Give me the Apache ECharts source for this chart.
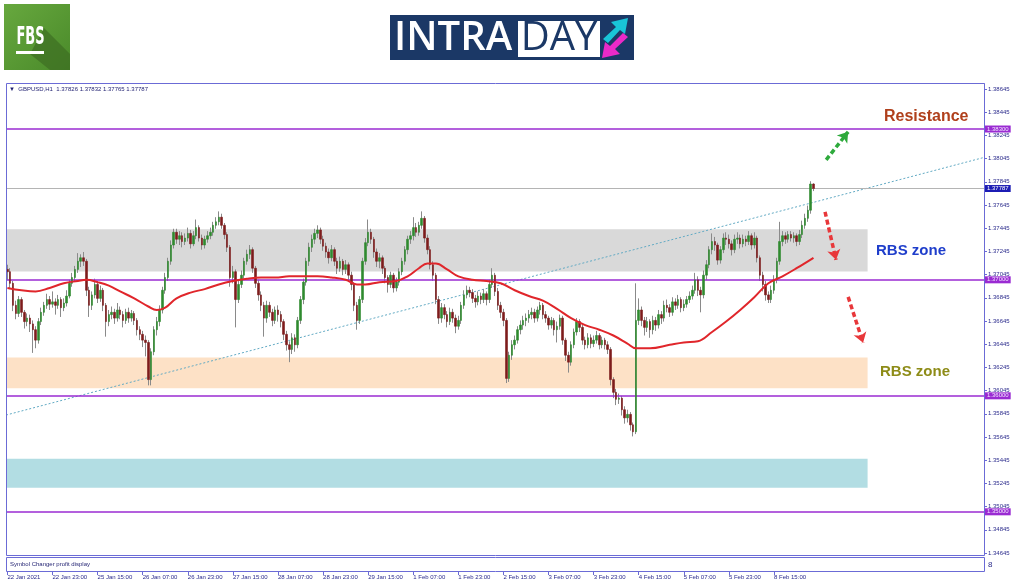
<!DOCTYPE html>
<html><head><meta charset="utf-8">
<script src="https://cdn.jsdelivr.net/npm/echarts@6/dist/echarts.min.js"></script>
<style>html,body{margin:0;padding:0;background:#fff}#c{width:1024px;height:587px}</style>
</head><body><div id="c"></div>
<script>
// ---------- DATA (GBPUSD H1) ----------
const symbol = 'GBPUSD,H1';
const opens = [
1.3709,1.3707,1.3697,1.3678,1.3671,1.3683,1.3672,1.3664,1.3667,1.3662,
1.3657,1.3648,1.3664,1.3672,1.3678,1.3683,1.3679,1.3681,1.3678,1.3683,
1.3676,1.3680,1.3686,1.3697,1.3702,1.3709,1.3716,1.3719,1.3716,1.3691,
1.3678,1.3687,1.3696,1.3684,1.3691,1.3678,1.3664,1.3670,1.3672,1.3667,
1.3674,1.3670,1.3665,1.3672,1.3667,1.3671,1.3665,1.3657,1.3653,1.3648,
1.3646,1.3614,1.3638,1.3657,1.3664,1.3674,1.3691,1.3702,1.3716,1.3730,
1.3741,1.3735,1.3738,1.3733,1.3736,1.3740,1.3731,1.3738,1.3745,1.3736,
1.3730,1.3735,1.3738,1.3741,1.3747,1.3750,1.3754,1.3747,1.3739,1.3728,
1.3702,1.3707,1.3683,1.3696,1.3704,1.3716,1.3722,1.3726,1.3710,1.3697,
1.3687,1.3678,1.3667,1.3678,1.3672,1.3665,1.3674,1.3670,1.3664,1.3653,
1.3644,1.3640,1.3650,1.3644,1.3665,1.3683,1.3698,1.3716,1.3728,1.3735,
1.3740,1.3743,1.3735,1.3729,1.3724,1.3719,1.3726,1.3716,1.3710,1.3716,
1.3709,1.3713,1.3704,1.3696,1.3678,1.3665,1.3683,1.3716,1.3732,1.3741,
1.3735,1.3724,1.3716,1.3719,1.3710,1.3702,1.3696,1.3704,1.3693,1.3698,
1.3707,1.3716,1.3726,1.3735,1.3738,1.3745,1.3741,1.3747,1.3753,1.3736,
1.3726,1.3713,1.3704,1.3683,1.3667,1.3676,1.3670,1.3664,1.3672,1.3667,
1.3660,1.3665,1.3678,1.3687,1.3691,1.3689,1.3684,1.3681,1.3686,1.3683,
1.3688,1.3683,1.3696,1.3704,1.3690,1.3678,1.3672,1.3665,1.3615,1.3635,
1.3644,1.3648,1.3657,1.3661,1.3665,1.3667,1.3670,1.3672,1.3667,1.3674,
1.3678,1.3670,1.3667,1.3661,1.3665,1.3657,1.3660,1.3667,1.3648,1.3635,
1.3629,1.3644,1.3655,1.3664,1.3659,1.3648,1.3644,1.3650,1.3645,1.3648,
1.3652,1.3644,1.3648,1.3644,1.3640,1.3614,1.3603,1.3597,1.3598,1.3588,
1.3581,1.3584,1.3575,1.3569,1.3665,1.3674,1.3665,1.3659,1.3664,1.3657,
1.3665,1.3661,1.3670,1.3667,1.3678,1.3676,1.3672,1.3681,1.3678,1.3683,
1.3676,1.3679,1.3683,1.3686,1.3691,1.3700,1.3691,1.3687,1.3704,1.3713,
1.3726,1.3733,1.3730,1.3717,1.3726,1.3736,1.3735,1.3731,1.3726,1.3735,
1.3736,1.3731,1.3735,1.3733,1.3738,1.3730,1.3736,1.3719,1.3704,1.3696,
1.3687,1.3683,1.3691,1.3700,1.3716,1.3733,1.3738,1.3735,1.3739,1.3736,
1.3738,1.3733,1.3739,1.3747,1.3753,1.3760,1.37826];
const closes = [
1.3707,1.3697,1.3678,1.3671,1.3683,1.3672,1.3664,1.3667,1.3662,1.3657,
1.3648,1.3664,1.3672,1.3678,1.3683,1.3679,1.3681,1.3678,1.3683,1.3676,
1.3680,1.3686,1.3697,1.3702,1.3709,1.3716,1.3719,1.3716,1.3691,1.3678,
1.3687,1.3696,1.3684,1.3691,1.3678,1.3664,1.3670,1.3672,1.3667,1.3674,
1.3670,1.3665,1.3672,1.3667,1.3671,1.3665,1.3657,1.3653,1.3648,1.3646,
1.3614,1.3638,1.3657,1.3664,1.3674,1.3691,1.3702,1.3716,1.3730,1.3741,
1.3735,1.3738,1.3733,1.3736,1.3740,1.3731,1.3738,1.3745,1.3736,1.3730,
1.3735,1.3738,1.3741,1.3747,1.3750,1.3754,1.3747,1.3739,1.3728,1.3702,
1.3707,1.3683,1.3696,1.3704,1.3716,1.3722,1.3726,1.3710,1.3697,1.3687,
1.3678,1.3667,1.3678,1.3672,1.3665,1.3674,1.3670,1.3664,1.3653,1.3644,
1.3640,1.3650,1.3644,1.3665,1.3683,1.3698,1.3716,1.3728,1.3735,1.3740,
1.3743,1.3735,1.3729,1.3724,1.3719,1.3726,1.3716,1.3710,1.3716,1.3709,
1.3713,1.3704,1.3696,1.3678,1.3665,1.3683,1.3716,1.3732,1.3741,1.3735,
1.3724,1.3716,1.3719,1.3710,1.3702,1.3696,1.3704,1.3693,1.3698,1.3707,
1.3716,1.3726,1.3735,1.3738,1.3745,1.3741,1.3747,1.3753,1.3736,1.3726,
1.3713,1.3704,1.3683,1.3667,1.3676,1.3670,1.3664,1.3672,1.3667,1.3660,
1.3665,1.3678,1.3687,1.3691,1.3689,1.3684,1.3681,1.3686,1.3683,1.3688,
1.3683,1.3696,1.3704,1.3690,1.3678,1.3672,1.3665,1.3615,1.3635,1.3644,
1.3648,1.3657,1.3661,1.3665,1.3667,1.3670,1.3672,1.3667,1.3674,1.3678,
1.3670,1.3667,1.3661,1.3665,1.3657,1.3660,1.3667,1.3648,1.3635,1.3629,
1.3644,1.3655,1.3664,1.3659,1.3648,1.3644,1.3650,1.3645,1.3648,1.3652,
1.3644,1.3648,1.3644,1.3640,1.3614,1.3603,1.3597,1.3598,1.3588,1.3581,
1.3584,1.3575,1.3569,1.3665,1.3674,1.3665,1.3659,1.3664,1.3657,1.3665,
1.3661,1.3670,1.3667,1.3678,1.3676,1.3672,1.3681,1.3678,1.3683,1.3676,
1.3679,1.3683,1.3686,1.3691,1.3700,1.3691,1.3687,1.3704,1.3713,1.3726,
1.3733,1.3730,1.3717,1.3726,1.3736,1.3735,1.3731,1.3726,1.3735,1.3736,
1.3731,1.3735,1.3733,1.3738,1.3730,1.3736,1.3719,1.3704,1.3696,1.3687,
1.3683,1.3691,1.3700,1.3716,1.3733,1.3738,1.3735,1.3739,1.3736,1.3738,
1.3733,1.3739,1.3747,1.3753,1.3760,1.37826,1.37787];
const highs = [
1.3713,1.3710,1.3699,1.3682,1.3686,1.3685,1.3674,1.3671,1.3670,1.3665,
1.3660,1.3667,1.3676,1.3681,1.3688,1.3686,1.3690,1.3684,1.3687,1.3685,
1.3684,1.3691,1.3700,1.3706,1.3712,1.3723,1.3722,1.3724,1.3718,1.3694,
1.3690,1.3701,1.3699,1.3695,1.3693,1.3680,1.3674,1.3677,1.3675,1.3680,
1.3677,1.3673,1.3675,1.3676,1.3674,1.3673,1.3667,1.3660,1.3656,1.3652,
1.3648,1.3641,1.3660,1.3668,1.3678,1.3694,1.3706,1.3719,1.3734,1.3744,
1.3744,1.3742,1.3741,1.3740,1.3745,1.3743,1.3742,1.3752,1.3747,1.3739,
1.3738,1.3742,1.3745,1.3750,1.3754,1.3759,1.3757,1.3749,1.3741,1.3730,
1.3712,1.3709,1.3699,1.3708,1.3719,1.3726,1.3730,1.3728,1.3712,1.3700,
1.3690,1.3681,1.3682,1.3681,1.3675,1.3677,1.3678,1.3673,1.3666,1.3656,
1.3647,1.3654,1.3653,1.3668,1.3686,1.3701,1.3719,1.3732,1.3739,1.3744,
1.3747,1.3745,1.3738,1.3732,1.3727,1.3730,1.3728,1.3719,1.3720,1.3718,
1.3717,1.3715,1.3707,1.3698,1.3681,1.3686,1.3719,1.3736,1.3752,1.3744,
1.3737,1.3727,1.3723,1.3721,1.3712,1.3704,1.3707,1.3706,1.3702,1.3710,
1.3719,1.3729,1.3738,1.3742,1.3754,1.3749,1.3750,1.3759,1.3755,1.3739,
1.3729,1.3716,1.3706,1.3686,1.3680,1.3679,1.3673,1.3676,1.3675,1.3670,
1.3669,1.3681,1.3691,1.3695,1.3694,1.3692,1.3687,1.3690,1.3689,1.3692,
1.3690,1.3700,1.3710,1.3706,1.3693,1.3681,1.3675,1.3667,1.3638,1.3648,
1.3652,1.3660,1.3665,1.3669,1.3671,1.3674,1.3676,1.3675,1.3677,1.3681,
1.3680,1.3673,1.3669,1.3668,1.3667,1.3664,1.3670,1.3669,1.3650,1.3638,
1.3647,1.3658,1.3667,1.3666,1.3661,1.3651,1.3654,1.3653,1.3652,1.3656,
1.3654,1.3651,1.3650,1.3647,1.3642,1.3616,1.3606,1.3602,1.3600,1.3591,
1.3588,1.3586,1.3577,1.3697,1.3684,1.3677,1.3668,1.3668,1.3666,1.3669,
1.3668,1.3674,1.3673,1.3682,1.3683,1.3679,1.3685,1.3684,1.3687,1.3685,
1.3683,1.3686,1.3690,1.3695,1.3706,1.3703,1.3694,1.3708,1.3717,1.3729,
1.3740,1.3737,1.3732,1.3729,1.3740,1.3741,1.3739,1.3734,1.3739,1.3741,
1.3739,1.3739,1.3738,1.3742,1.3740,1.3741,1.3738,1.3721,1.3707,1.3699,
1.3690,1.3695,1.3704,1.3719,1.3750,1.3742,1.3741,1.3742,1.3742,1.3741,
1.3740,1.3743,1.3751,1.3757,1.3764,1.3785,1.37832];
const lows = [
1.3700,1.3692,1.3673,1.3666,1.3668,1.3668,1.3658,1.3660,1.3655,1.3637,
1.3641,1.3645,1.3661,1.3669,1.3675,1.3674,1.3676,1.3670,1.3675,1.3668,
1.3673,1.3677,1.3684,1.3694,1.3699,1.3706,1.3711,1.3712,1.3686,1.3668,
1.3674,1.3684,1.3680,1.3681,1.3673,1.3651,1.3660,1.3666,1.3662,1.3664,
1.3666,1.3659,1.3662,1.3663,1.3664,1.3661,1.3652,1.3648,1.3642,1.3634,
1.3609,1.3609,1.3635,1.3652,1.3660,1.3671,1.3688,1.3699,1.3713,1.3727,
1.3731,1.3730,1.3728,1.3730,1.3733,1.3727,1.3729,1.3735,1.3733,1.3726,
1.3727,1.3732,1.3735,1.3738,1.3744,1.3747,1.3744,1.3735,1.3724,1.3694,
1.3697,1.3659,1.3680,1.3693,1.3701,1.3713,1.3718,1.3706,1.3693,1.3682,
1.3673,1.3651,1.3663,1.3668,1.3660,1.3662,1.3664,1.3659,1.3648,1.3639,
1.3629,1.3636,1.3638,1.3641,1.3662,1.3679,1.3695,1.3712,1.3724,1.3731,
1.3736,1.3731,1.3725,1.3719,1.3714,1.3716,1.3712,1.3705,1.3707,1.3704,
1.3705,1.3700,1.3691,1.3673,1.3657,1.3662,1.3680,1.3713,1.3729,1.3731,
1.3719,1.3711,1.3710,1.3705,1.3697,1.3689,1.3693,1.3689,1.3690,1.3695,
1.3704,1.3713,1.3722,1.3731,1.3734,1.3737,1.3738,1.3744,1.3732,1.3722,
1.3709,1.3699,1.3679,1.3662,1.3663,1.3666,1.3659,1.3661,1.3663,1.3654,
1.3657,1.3662,1.3675,1.3684,1.3685,1.3680,1.3676,1.3678,1.3679,1.3680,
1.3678,1.3680,1.3693,1.3686,1.3674,1.3667,1.3660,1.3611,1.3612,1.3631,
1.3640,1.3645,1.3653,1.3657,1.3660,1.3663,1.3666,1.3663,1.3664,1.3670,
1.3666,1.3663,1.3657,1.3658,1.3652,1.3646,1.3657,1.3644,1.3630,1.3620,
1.3626,1.3641,1.3652,1.3655,1.3644,1.3640,1.3641,1.3641,1.3642,1.3645,
1.3640,1.3641,1.3640,1.3636,1.3609,1.3598,1.3592,1.3593,1.3583,1.3576,
1.3577,1.3570,1.3565,1.3567,1.3661,1.3660,1.3652,1.3655,1.3650,1.3653,
1.3656,1.3658,1.3662,1.3664,1.3672,1.3668,1.3669,1.3674,1.3675,1.3672,
1.3673,1.3676,1.3680,1.3683,1.3688,1.3686,1.3672,1.3684,1.3700,1.3710,
1.3722,1.3725,1.3713,1.3714,1.3723,1.3730,1.3727,1.3721,1.3723,1.3731,
1.3727,1.3728,1.3729,1.3730,1.3726,1.3727,1.3715,1.3699,1.3690,1.3682,
1.3680,1.3680,1.3688,1.3697,1.3713,1.3729,1.3731,1.3732,1.3733,1.3732,
1.3729,1.3730,1.3736,1.3744,1.3750,1.3757,1.37765];
// moving average (red), read at sample bars
const maIdx = [0,5,10,15,20,25,28,32,36,40,45,50,53,56,60,65,70,75,80,85,90,95,100,105,110,115,120,124,127,132,138,142,146,149,152,156,160,165,170,175,180,185,190,195,200,205,210,215,220,223,228,235,240,245,250,255,260,265,270,275,280,286];
const maVal = [1.3693,1.3691,1.3690,1.3693,1.3697,1.3699,1.3700,1.3698,1.3695,1.3690,1.3684,1.3677,1.3674,1.3676,1.3684,1.3689,1.3692,1.3696,1.3699,1.3701,1.3702,1.3702,1.3703,1.3703,1.3703,1.3702,1.3700,1.3696,1.3696,1.3698,1.3699,1.3703,1.3710,1.3714,1.3714,1.3709,1.3703,1.3700,1.3699,1.3697,1.3691,1.3686,1.3682,1.3675,1.3667,1.3661,1.3657,1.3652,1.3645,1.3641,1.3641,1.3644,1.3646,1.3647,1.3655,1.3664,1.3674,1.3685,1.3697,1.3703,1.3710,1.3719];
// axis tick labels
const xTickLabels = ['22 Jan 2021','22 Jan 23:00','25 Jan 15:00','26 Jan 07:00','26 Jan 23:00','27 Jan 15:00','28 Jan 07:00','28 Jan 23:00','29 Jan 15:00','1 Feb 07:00','1 Feb 23:00','2 Feb 15:00','3 Feb 07:00','3 Feb 23:00','4 Feb 15:00','5 Feb 07:00','5 Feb 23:00','8 Feb 15:00'];
const xTickEvery = 16;
const yTickLabels = ['1.34645','1.34845','1.35045','1.35245','1.35445','1.35645','1.35845','1.36045','1.36245','1.36445','1.36645','1.36845','1.37045','1.37245','1.37445','1.37645','1.37845','1.38045','1.38245','1.38445','1.38645'];
// horizontal levels, zones, trend line, arrows
const levels = [1.383, 1.37, 1.36, 1.35];
const zoneTop = [1.37437, 1.36330, 1.35457];
const zoneBottom = [1.37072, 1.36066, 1.35207];
const zoneEndBar = 305.2;
const trendLine = [[-0.5, 1.35834], [346.5, 1.38055]];
const arrowUp = [[290.5, 1.38034], [298.3, 1.38276]];
const arrowDown1 = [[290.1, 1.37586], [294.0, 1.37172]];
const arrowDown2 = [[298.3, 1.36853], [303.6, 1.36457]];

// ---------- CHART ----------
const nSlots = 347;
const n = closes.length;
const cats = Array.from({length: nSlots}, (_, i) => String(i));
const full = opens.map((o, i) => [o, closes[i], lows[i], highs[i]]);
const bodies = opens.map((o, i) => [o, closes[i], Math.min(o, closes[i]), Math.max(o, closes[i])]);
const ma = maIdx.map((b, i) => [b, maVal[i]]);
const yMin = parseFloat(yTickLabels[0]);
const yStep = parseFloat(yTickLabels[1]) - yMin;
const gridTop = 84, gridBottom = 34;
const pxPerUnit = 11600;
const yMax = yMin + (587 - gridTop - gridBottom) / pxPerUnit;
const last = n - 1;
const headerText = '\u25BC  ' + symbol + '  ' + [opens[last], highs[last], lows[last], closes[last]].map(v => v.toFixed(5)).join(' ');
const navy = '#2b2b8c';
const frameColor = '#6b6bd6';
const purple = '#9a2bd2';
const zoneColors = ['#d9d9d9', '#fde1c6', '#b2dde3'];

const chart = echarts.init(document.getElementById('c'), null, {renderer: 'canvas'});
chart.setOption({
  animation: false,
  backgroundColor: '#ffffff',
  grid: {left: 6, right: 40, top: gridTop, bottom: gridBottom, containLabel: false},
  xAxis: [{
    type: 'category', data: cats, boundaryGap: true, position: 'bottom', offset: 19,
    axisLine: {show: false, onZero: false},
    axisTick: {show: true, alignWithLabel: true, length: 3, lineStyle: {color: frameColor},
      interval: (i) => i % xTickEvery === 0 && i / xTickEvery < xTickLabels.length},
    axisLabel: {interval: (i) => i % xTickEvery === 0 && i / xTickEvery < xTickLabels.length,
      formatter: (v, i) => xTickLabels[Math.round(Number(v) / xTickEvery)] || '',
      align: 'left', margin: 2, fontSize: 6, color: navy, fontFamily: 'Liberation Sans'},
    splitLine: {show: false}
  }, {
    type: 'value', min: -0.5, max: nSlots - 0.5, show: false,
    axisLine: {onZero: false}
  }],
  yAxis: [{
    type: 'value', position: 'right', min: yMin, max: yMax, interval: yStep, scale: true,
    axisLine: {show: true, onZero: false, lineStyle: {color: frameColor}},
    axisTick: {show: true, inside: false, length: 3, lineStyle: {color: frameColor}},
    axisLabel: {formatter: v => v.toFixed(5), fontSize: 6, color: navy, margin: 4, showMaxLabel: false, fontFamily: 'Liberation Sans'},
    splitLine: {show: false}
  }],
  series: [
    { // zones
      type: 'line', xAxisIndex: 1, data: [], z: 1, silent: true,
      markArea: {silent: true, data: zoneTop.map((t, k) => [
        {xAxis: -0.3, yAxis: t, itemStyle: {color: zoneColors[k]}},
        {xAxis: zoneEndBar, yAxis: zoneBottom[k]}])}
    },
    { // trend line
      type: 'line', xAxisIndex: 1, data: trendLine, z: 2, symbol: 'none', silent: true,
      lineStyle: {color: '#62aac4', width: 1, type: [2, 2]}
    },
    { // levels
      type: 'line', xAxisIndex: 1, data: [], z: 3, silent: true,
      markLine: {silent: true, symbol: ['none', 'none'], animation: false, precision: 5,
        lineStyle: {color: purple, width: 1.5, type: 'solid'},
        label: {position: 'end', distance: 1, formatter: p => Number(p.value).toFixed(5), backgroundColor: purple,
          color: '#f4e6ff', fontSize: 6, padding: [1, 2, 0, 2], fontFamily: 'Liberation Sans'},
        data: levels.map(v => ({yAxis: v}))}
    },
    { // current price line
      type: 'line', xAxisIndex: 1, data: [], z: 3, silent: true,
      markLine: {silent: true, symbol: ['none', 'none'], animation: false, precision: 5,
        lineStyle: {color: '#b4b4b4', width: 1, type: 'solid'},
        label: {position: 'end', distance: 1, formatter: p => Number(p.value).toFixed(5), backgroundColor: '#1c1cb4',
          color: '#ffffff', fontSize: 6, padding: [1, 2, 0, 2], fontFamily: 'Liberation Sans'},
        data: [{yAxis: closes[last]}]}
    },
    { // wicks
      type: 'candlestick', data: full, barWidth: 1, z: 4, silent: true,
      itemStyle: {color: '#8a8a8a', color0: '#8a8a8a', borderColor: '#8a8a8a', borderColor0: '#8a8a8a', borderWidth: 1}
    },
    { // bodies
      type: 'candlestick', data: bodies, barWidth: 2, z: 5, silent: true,
      itemStyle: {color: '#2f8a2f', color0: '#7d1c1c', borderColor: '#2f8a2f', borderColor0: '#7d1c1c', borderWidth: 0.6}
    },
    { // moving average
      type: 'line', xAxisIndex: 1, data: ma, smooth: 0.4, symbol: 'none', z: 6, silent: true,
      lineStyle: {color: '#e0262b', width: 2}
    },
    { // arrows
      type: 'lines', coordinateSystem: 'cartesian2d', xAxisIndex: 1, yAxisIndex: 0, z: 7, silent: true,
      symbol: ['none', 'arrow'], symbolSize: 10,
      lineStyle: {width: 3.5, type: [5, 3], opacity: 1},
      data: [
        {coords: arrowUp, lineStyle: {color: '#2eaa3c'}},
        {coords: arrowDown1, lineStyle: {color: '#e8373a'}},
        {coords: arrowDown2, lineStyle: {color: '#e8373a'}}
      ]
    }
  ],
  graphic: [
    // chart frames
    {type: 'rect', shape: {x: 6.5, y: 83.5, width: 978, height: 472}, style: {fill: 'none', stroke: frameColor, lineWidth: 1}, z: 10, silent: true},
    {type: 'rect', shape: {x: 6.5, y: 557.5, width: 978, height: 14}, style: {fill: 'none', stroke: frameColor, lineWidth: 1}, z: 10, silent: true},
    {type: 'text', left: 9, top: 86, style: {text: headerText, fill: '#1f1f70', font: '6px "Liberation Sans"'}, z: 10},
    {type: 'text', left: 10, top: 561, style: {text: 'Symbol Changer profit display', fill: '#1f1f70', font: '6px "Liberation Sans"'}, z: 10},
    {type: 'text', left: 988, top: 561, style: {text: '8', fill: navy, font: '8px "Liberation Sans"'}, z: 10},
    // annotations
    {type: 'text', left: 884, top: 109, style: {text: 'Resistance', fill: '#b0401c', font: 'bold 16px "Liberation Sans"'}, z: 10},
    {type: 'text', left: 876, top: 243, style: {text: 'RBS zone', fill: '#1f3ecb', font: 'bold 15px "Liberation Sans"'}, z: 10},
    {type: 'text', left: 880, top: 364, style: {text: 'RBS zone', fill: '#8e8c18', font: 'bold 15px "Liberation Sans"'}, z: 10},
    // FBS logo
    {type: 'group', x: 4, y: 4, z: 10, children: [
      {type: 'rect', shape: {x: 0, y: 0, width: 66, height: 66},
        style: {fill: new echarts.graphic.LinearGradient(0, 0, 1, 1, [{offset: 0, color: '#67a83e'}, {offset: 1, color: '#4a8a2a'}])}},
      {type: 'polygon', shape: {points: [[40, 24], [66, 50], [66, 66], [46, 66], [26, 50]]}, style: {fill: '#3d6e22', opacity: 0.7}},
      {type: 'text', x: 26.5, y: 33, scaleX: 0.52, originX: 0, originY: 0,
        style: {text: 'FBS', fill: '#ffffff', font: 'bold 25px "DejaVu Sans"', textAlign: 'center', textVerticalAlign: 'middle'}},
      {type: 'rect', shape: {x: 12, y: 47, width: 28, height: 3}, style: {fill: '#ffffff'}}
    ]},
    // INTRADAY banner
    {type: 'group', x: 390, y: 15, z: 10, children: [
      {type: 'rect', shape: {x: 0, y: 0, width: 244, height: 45}, style: {fill: '#1b3866'}},
      {type: 'text', x: 4, y: 24, style: {text: 'INTRA', fill: '#ffffff', font: '600 40px "Open Sans"', textVerticalAlign: 'middle'}},
      {type: 'rect', shape: {x: 128, y: 6, width: 82, height: 36}, style: {fill: '#ffffff'}},
      {type: 'text', x: 169, y: 24, style: {text: 'DAY', fill: '#1b3866', font: '40px "Open Sans"', textAlign: 'center', textVerticalAlign: 'middle'}},
      {type: 'polygon', shape: {points: [[213, 24], [226, 12], [221, 7], [238, 3], [235, 19], [230, 15], [218, 28]]}, style: {fill: '#19c4d8'}},
      {type: 'polygon', shape: {points: [[238, 22], [225, 34], [230, 39], [212, 43], [215, 27], [220, 31], [233, 18]]}, style: {fill: '#ea2ac8'}}
    ]}
  ]
});
</script>
</body></html>
